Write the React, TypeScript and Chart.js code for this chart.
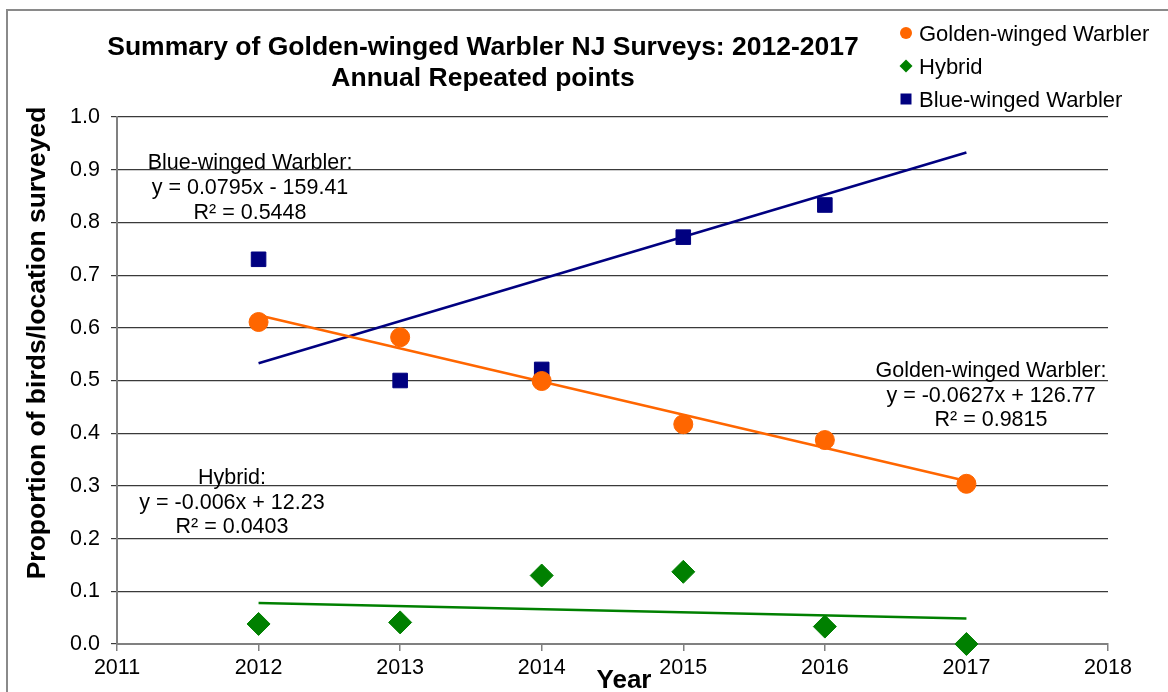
import { useEffect, useRef } from 'react';
import { Chart, registerables } from 'chart.js';

Chart.register(...registerables);

// ---- data ----
const years = [2012, 2013, 2014, 2015, 2016, 2017];
const goldenWinged = [0.611, 0.582, 0.499, 0.417, 0.387, 0.304];
const hybrid = [0.038, 0.041, 0.13, 0.137, 0.033, 0.0];
const blueWinged = [0.73, 0.5, 0.521, 0.772, 0.833, 1.04];
const seriesNames = ['Golden-winged Warbler', 'Hybrid', 'Blue-winged Warbler'];
const seriesColors = ['#FF6600', '#008000', '#000080'];
const xMin = 2011;
const xMax = 2018;
const yMin = 0;
const yMax = 1;
const titleLines = ['Summary of Golden-winged Warbler NJ Surveys: 2012-2017', 'Annual Repeated points'];
const xTitle = 'Year';
const yTitle = 'Proportion of birds/location surveyed';
const blueLabel = ['Blue-winged Warbler:', 'y = 0.0795x - 159.41', 'R\u00B2 = 0.5448'];
const goldenLabel = ['Golden-winged Warbler:', 'y = -0.0627x + 126.77', 'R\u00B2 = 0.9815'];
const hybridLabel = ['Hybrid:', 'y = -0.006x + 12.23', 'R\u00B2 = 0.0403'];

const FONT = '"Liberation Sans", Arial, sans-serif';

function linReg(xs: number[], ys: number[]) {
  const n = xs.length;
  const mx = xs.reduce((a, b) => a + b, 0) / n;
  const my = ys.reduce((a, b) => a + b, 0) / n;
  let sxy = 0;
  let sxx = 0;
  for (let i = 0; i < n; i++) {
    sxy += (xs[i] - mx) * (ys[i] - my);
    sxx += (xs[i] - mx) * (xs[i] - mx);
  }
  const m = sxy / sxx;
  return { m, b: my - m * mx };
}

function trendPoints(ys: number[]) {
  const { m, b } = linReg(years, ys);
  const x0 = years[0];
  const x1 = years[years.length - 1];
  return [
    { x: x0, y: m * x0 + b },
    { x: x1, y: m * x1 + b },
  ];
}

function pts(ys: number[]) {
  return years.map((x, i) => ({ x, y: ys[i] }));
}

const decor = {
  id: 'decor',
  beforeDraw(chart: any) {
    const ctx = chart.ctx;
    ctx.save();
    ctx.fillStyle = '#ffffff';
    ctx.fillRect(0, 0, chart.width, chart.height);
    ctx.strokeStyle = '#8a8a8a';
    ctx.lineWidth = 2;
    ctx.strokeRect(7, 10, chart.width + 40, chart.height + 40);
    ctx.restore();
  },
  afterDraw(chart: any) {
    const ctx = chart.ctx;
    ctx.save();
    ctx.fillStyle = '#000';
    ctx.textAlign = 'center';
    ctx.textBaseline = 'alphabetic';
    // title
    ctx.font = `bold 26.5px ${FONT}`;
    ctx.fillText(titleLines[0], 483, 55);
    ctx.fillText(titleLines[1], 483, 86);
    // x title
    ctx.font = `bold 26px ${FONT}`;
    ctx.fillText(xTitle, 624, 688);
    // y title
    ctx.font = `bold 26.5px ${FONT}`;
    ctx.save();
    ctx.translate(45, 343);
    ctx.rotate(-Math.PI / 2);
    ctx.fillText(yTitle, 0, 0);
    ctx.restore();
    // trend labels
    ctx.font = `21.5px ${FONT}`;
    const drawLines = (lines: string[], cx: number, y0: number, step: number) => {
      lines.forEach((t, i) => ctx.fillText(t, cx, y0 + i * step));
    };
    drawLines(blueLabel, 250, 169, 25);
    drawLines(goldenLabel, 991, 377, 24.5);
    drawLines(hybridLabel, 232, 484, 24.5);
    // legend
    ctx.font = `22px ${FONT}`;
    ctx.textAlign = 'left';
    const lx = 906;
    const rows = [33, 66, 99];
    seriesNames.forEach((name, i) => {
      const y = rows[i];
      ctx.fillStyle = seriesColors[i];
      ctx.beginPath();
      if (i === 0) {
        ctx.arc(lx, y, 6, 0, Math.PI * 2);
      } else if (i === 1) {
        ctx.moveTo(lx, y - 6.5);
        ctx.lineTo(lx + 6.5, y);
        ctx.lineTo(lx, y + 6.5);
        ctx.lineTo(lx - 6.5, y);
        ctx.closePath();
      } else {
        ctx.rect(lx - 5.5, y - 5.5, 11, 11);
      }
      ctx.fill();
      ctx.fillStyle = '#000';
      ctx.fillText(name, 919, y + 8);
    });
    ctx.restore();
  },
};

export default function App() {
  const ref = useRef<HTMLCanvasElement | null>(null);
  useEffect(() => {
    if (!ref.current) return;
    const scatterDs = (label: string, ys: number[], color: string, style: string, r: number, order: number, clip: any) => ({
      label,
      data: pts(ys),
      showLine: false,
      pointStyle: style,
      pointRadius: r,
      pointHoverRadius: r,
      pointBackgroundColor: color,
      pointBorderColor: color,
      pointBorderWidth: 1,
      order,
      clip,
    });
    const trendDs = (label: string, ys: number[], color: string) => ({
      label,
      data: trendPoints(ys),
      showLine: true,
      borderColor: color,
      borderWidth: 2.5,
      pointRadius: 0,
      pointHoverRadius: 0,
      order: 0,
    });
    const chart = new Chart(ref.current, {
      type: 'scatter',
      data: {
        datasets: [
          trendDs('Golden trend', goldenWinged, seriesColors[0]),
          trendDs('Hybrid trend', hybrid, seriesColors[1]),
          trendDs('Blue trend', blueWinged, seriesColors[2]),
          scatterDs(seriesNames[0], goldenWinged, seriesColors[0], 'circle', 9.5, 1, false),
          scatterDs(seriesNames[1], hybrid, seriesColors[1], 'rectRot', 11.5, 2, false),
          scatterDs(seriesNames[2], blueWinged, seriesColors[2], 'rect', 10.3, 3, 5),
        ] as any,
      },
      options: {
        animation: false,
        responsive: false,
        devicePixelRatio: 1,
        layout: { padding: { left: 0, top: 117, right: 60, bottom: 0 } },
        plugins: {
          legend: { display: false },
          title: { display: false },
          tooltip: { enabled: false },
        },
        scales: {
          x: {
            type: 'linear',
            min: xMin,
            max: xMax,
            afterFit: (s: any) => {
              s.height = 48;
            },
            ticks: {
              stepSize: 1,
              padding: 4,
              color: '#000',
              font: { family: FONT, size: 21.5 },
              callback: (v: any) => String(v),
            },
            grid: {
              drawOnChartArea: false,
              drawTicks: true,
              tickLength: 7,
              color: '#808080',
              lineWidth: 1.5,
            },
            border: { color: '#808080', width: 2 },
          },
          y: {
            type: 'linear',
            min: yMin,
            max: yMax,
            afterFit: (s: any) => {
              s.width = 117;
            },
            ticks: {
              stepSize: 0.1,
              padding: 11,
              color: '#000',
              font: { family: FONT, size: 21.5 },
              callback: (v: any) => Number(v).toFixed(1),
            },
            grid: {
              color: '#3a3a3a',
              lineWidth: 1.2,
              tickLength: 6,
            },
            border: { color: '#808080', width: 2 },
          },
        },
      },
      plugins: [decor],
    });
    return () => chart.destroy();
  }, []);
  return (
    <div style={{ position: 'fixed', left: 0, top: 0, width: 1168, height: 692, background: '#fff' }}>
      <canvas ref={ref} width={1168} height={692} style={{ display: 'block' }} />
    </div>
  );
}
